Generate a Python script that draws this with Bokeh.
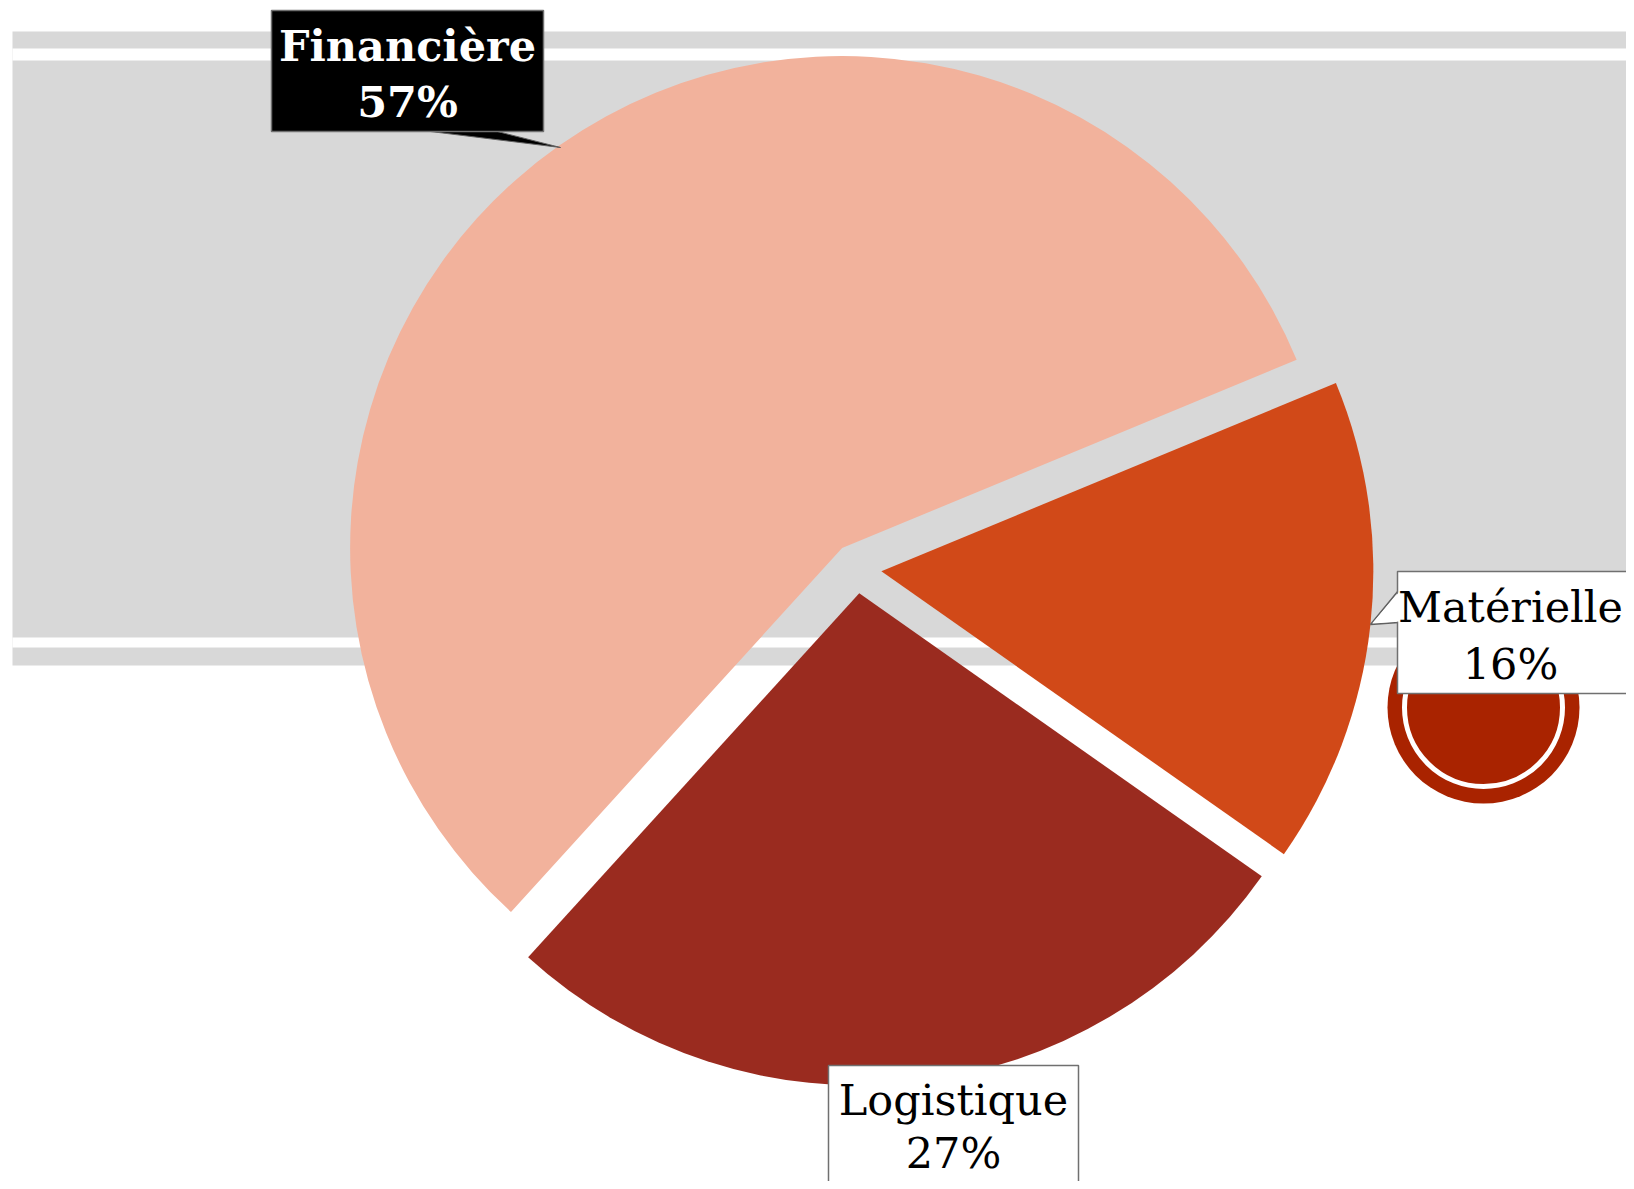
import numpy as np
from bokeh.plotting import figure
from bokeh.models import Range1d
from bokeh.core.properties import value
from bokeh.embed import file_html
from bokeh.resources import INLINE

# ---- data ----
categories = ["Financière", "Matérielle", "Logistique"]
values = [57, 16, 27]
pct_labels = ["57%", "16%", "27%"]
colors = ["#F2B29C", "#D14918", "#9A2B1F"]

# ---- layout (reference px) ----
W, H = 1626, 1181
REF_H = 1189


def sy(y):
    return REF_H - y


p = figure(width=W, height=H, x_range=Range1d(0, W), y_range=Range1d(REF_H - H, REF_H),
           output_backend="svg", toolbar_location=None, min_border=0)
p.axis.visible = False
p.xgrid.visible = False
p.ygrid.visible = False
p.outline_line_color = None
p.background_fill_color = "white"
p.border_fill_color = "white"

# textured background band (plain)
p.quad(left=[12], right=[1700], top=[sy(31)], bottom=[sy(665)], fill_color="#D8D8D8", line_color=None)
p.quad(left=[12, 12], right=[1700, 1700], top=[sy(48), sy(637)], bottom=[sy(60), sy(647)],
       fill_color="white", line_color=None)

# decorative circle
p.circle(x=[1483], y=[sy(707)], radius=96, fill_color="#A92300", line_color=None)
p.circle(x=[1483], y=[sy(707)], radius=79, fill_color=None, line_color="white", line_width=5)

# ---- pie ----
CX, CY, R, EXPLODE = 856, 568, 492, 25
first_angle = np.deg2rad(227.7)
vals = np.array(values, dtype=float)
fr = vals / vals.sum()
cum = np.concatenate([[0], np.cumsum(fr)[:-1]])
a0 = first_angle - cum * 2 * np.pi
a1 = a0 - fr * 2 * np.pi
mid = (a0 + a1) / 2
xs = CX + EXPLODE * np.cos(mid)
ys = sy(CY) + EXPLODE * np.sin(mid)
p.wedge(x=xs, y=ys, radius=R, start_angle=a0, end_angle=a1, direction="clock",
        fill_color=colors, line_color=None)

FONT = value("DejaVu Serif")

# Financière label (black callout)
p.patch(x=[430, 497, 560], y=[sy(131), sy(131), sy(147)], fill_color="black", line_color="#606060", line_width=1)
p.quad(left=[271], right=[543], top=[sy(10)], bottom=[sy(131)], fill_color="black", line_color="#707070", line_width=1.5)
p.text(x=[407, 407], y=[sy(45), sy(101)], text=[categories[0], pct_labels[0]], text_font=FONT,
       text_font_style="bold", text_font_size="43px", text_color="white",
       text_align="center", text_baseline="middle")

# Matérielle label
p.patch(x=[1398, 1370, 1398], y=[sy(590), sy(624), sy(622)], fill_color="white", line_color="#606060", line_width=1.5)
p.quad(left=[1397], right=[1700], top=[sy(571)], bottom=[sy(693)], fill_color="white", line_color="#707070", line_width=1.5)
p.patch(x=[1399, 1372, 1399], y=[sy(591), sy(622.5), sy(621)], fill_color="white", line_color=None)
p.text(x=[1510, 1510], y=[sy(606), sy(663)], text=[categories[1], pct_labels[1]], text_font=FONT,
       text_font_size="43px", text_color="black", text_align="center", text_baseline="middle")

# Logistique label
p.quad(left=[828], right=[1078], top=[sy(1065)], bottom=[sy(1186)], fill_color="white", line_color="#707070", line_width=1.5)
p.text(x=[953, 953], y=[sy(1099), sy(1152)], text=[categories[2], pct_labels[2]], text_font=FONT,
       text_font_size="43px", text_color="black", text_align="center", text_baseline="middle")

open("out.html", "w").write(file_html(p, INLINE))
